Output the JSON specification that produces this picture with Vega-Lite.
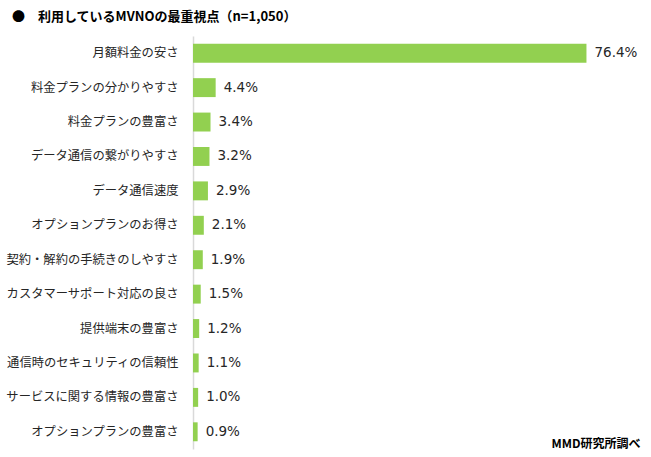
{
  "$schema": "https://vega.github.io/schema/vega-lite/v6.json",
  "width": 412,
  "height": 413,
  "autosize": {"type": "none"},
  "padding": {"left": 193, "top": 36, "right": 46, "bottom": 8},
  "background": "white",
  "title": {
    "text": "●　利用しているMVNOの最重視点（n=1,050）",
    "anchor": "start",
    "frame": "group",
    "dx": -181,
    "offset": 12,
    "font": "Noto Sans CJK JP",
    "fontSize": 13,
    "fontWeight": "bold",
    "color": "#000000"
  },
  "config": {
    "view": {"stroke": null},
    "font": "Noto Sans CJK JP"
  },
  "data": {
    "values": [
      {"item": "月額料金の安さ", "value": 0.764},
      {"item": "料金プランの分かりやすさ", "value": 0.044},
      {"item": "料金プランの豊富さ", "value": 0.034},
      {"item": "データ通信の繋がりやすさ", "value": 0.032},
      {"item": "データ通信速度", "value": 0.029},
      {"item": "オプションプランのお得さ", "value": 0.021},
      {"item": "契約・解約の手続きのしやすさ", "value": 0.019},
      {"item": "カスタマーサポート対応の良さ", "value": 0.015},
      {"item": "提供端末の豊富さ", "value": 0.012},
      {"item": "通信時のセキュリティの信頼性", "value": 0.011},
      {"item": "サービスに関する情報の豊富さ", "value": 0.010},
      {"item": "オプションプランの豊富さ", "value": 0.009}
    ]
  },
  "encoding": {
    "y": {
      "field": "item",
      "type": "nominal",
      "sort": null,
      "scale": {"paddingInner": 0.45, "paddingOuter": 0.225},
      "axis": {
        "title": null,
        "ticks": false,
        "domainColor": "#d9d9d9",
        "domainWidth": 1.5,
        "labelPadding": 15,
        "labelFont": "Noto Sans CJK JP",
        "labelFontSize": 12.3,
        "labelColor": "#262626",
        "labelLimit": 200
      }
    },
    "x": {
      "field": "value",
      "type": "quantitative",
      "scale": {"domain": [0, 0.8], "nice": false},
      "axis": {
        "orient": "bottom",
        "domain": false,
        "ticks": false,
        "labels": false,
        "grid": false,
        "title": "MMD研究所調べ",
        "titleFont": "Noto Sans CJK JP",
        "titleFontSize": 12,
        "titleFontWeight": "bold",
        "titleColor": "#000000",
        "titleAlign": "right",
        "titleBaseline": "middle",
        "titleX": 447,
        "titleY": -6
      }
    }
  },
  "layer": [
    {
      "mark": {"type": "bar", "color": "#92D050"}
    },
    {
      "mark": {
        "type": "text",
        "align": "left",
        "baseline": "middle",
        "dx": 8,
        "font": "DejaVu Sans",
        "fontSize": 13.5,
        "color": "#262626"
      },
      "encoding": {
        "text": {"field": "value", "type": "quantitative", "format": ".1%"}
      }
    }
  ]
}
